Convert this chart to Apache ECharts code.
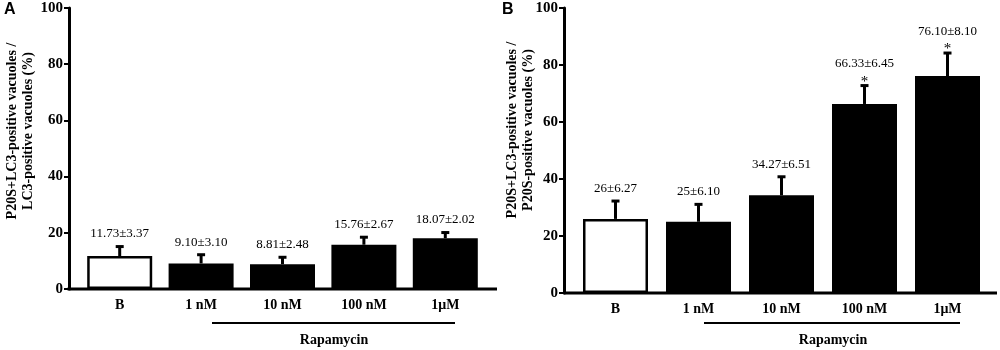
<!DOCTYPE html>
<html>
<head>
<meta charset="utf-8">
<script src="https://cdn.jsdelivr.net/npm/echarts@6/dist/echarts.min.js"></script>
<style>
  html, body { margin: 0; padding: 0; background: #ffffff; }
  #chart { width: 1000px; height: 350px; }
</style>
</head>
<body>
<div id="chart"></div>
<script>
const categories = ['B', '1 nM', '10 nM', '100 nM', '1μM'];
const yTicks = [0, 20, 40, 60, 80, 100];

// panel A
const meanA = [11.73, 9.10, 8.81, 15.76, 18.07];
const errA = [3.37, 3.10, 2.48, 2.67, 2.02];
const labelA = ['11.73±3.37', '9.10±3.10', '8.81±2.48', '15.76±2.67', '18.07±2.02'];
const starA = [false, false, false, false, false];

// panel B
const meanB = [26, 25, 34.27, 66.33, 76.10];
const errB = [6.27, 6.10, 6.51, 6.45, 8.10];
const labelB = ['26±6.27', '25±6.10', '34.27±6.51', '66.33±6.45', '76.10±8.10'];
const starB = [false, false, false, true, true];

const serif = "'Liberation Serif', 'Times New Roman', serif";

const barData = (means) => means.map((v, i) => (
  i === 0
    ? {value: v, itemStyle: {color: '#ffffff', borderColor: '#000', borderWidth: 2.5}}
    : {value: v, itemStyle: {color: '#000'}}
));

const errSeries = (idx, means, errs, labels, stars) => ({
  type: 'custom',
  xAxisIndex: idx,
  yAxisIndex: idx,
  z: 5,
  clip: false,
  data: means.map((m, i) => [i, m, errs[i]]),
  renderItem: (params, api) => {
    const i = api.value(0);
    const m = api.value(1);
    const e = api.value(2);
    const base = api.coord([i, m]);
    const top = api.coord([i, m + e]);
    const children = [
      {type: 'line', shape: {x1: base[0], y1: base[1], x2: top[0], y2: top[1]}, style: {stroke: '#000', lineWidth: 3}},
      {type: 'rect', shape: {x: top[0] - 4, y: top[1] - 1.5, width: 8, height: 3}, style: {fill: '#000'}}
    ];
    let labelY = top[1] - 6;
    if (stars[params.dataIndex]) {
      children.push({type: 'text', x: top[0], y: top[1] - 4, style: {text: '*', font: '15px ' + serif, fill: '#000', align: 'center', verticalAlign: 'middle'}});
      labelY = top[1] - 15;
    }
    children.push({type: 'text', x: top[0], y: labelY, style: {text: labels[params.dataIndex], font: '13px ' + serif, fill: '#000', align: 'center', verticalAlign: 'bottom'}});
    return {type: 'group', children};
  }
});

const xAxisCfg = (idx) => ({
  type: 'category',
  gridIndex: idx,
  data: categories,
  axisLine: {show: false},
  axisTick: {show: false},
  axisLabel: {color: '#000', fontFamily: serif, fontWeight: 'bold', fontSize: 14, margin: 9}
});

const yAxisCfg = (idx) => ({
  type: 'value',
  gridIndex: idx,
  min: yTicks[0],
  max: yTicks[yTicks.length - 1],
  interval: 20,
  offset: 10,
  splitLine: {show: false},
  axisLine: {show: true, lineStyle: {color: '#000', width: 3}},
  axisTick: {show: true, length: 5, lineStyle: {color: '#000', width: 2}},
  axisLabel: {color: '#000', fontFamily: serif, fontWeight: 'bold', fontSize: 15, margin: 6}
});

const chart = echarts.init(document.getElementById('chart'));
const option = {
  animation: false,
  grid: [
    {left: 79, right: 514, top: 8, bottom: 61},
    {left: 574, right: 11, top: 8, bottom: 57}
  ],
  xAxis: [xAxisCfg(0), xAxisCfg(1)],
  yAxis: [yAxisCfg(0), yAxisCfg(1)],
  series: [
    {type: 'bar', xAxisIndex: 0, yAxisIndex: 0, barWidth: 65, data: barData(meanA)},
    {type: 'bar', xAxisIndex: 1, yAxisIndex: 1, barWidth: 65, data: barData(meanB)},
    errSeries(0, meanA, errA, labelA, starA),
    errSeries(1, meanB, errB, labelB, starB)
  ],
  graphic: [
    // panel letters
    {type: 'text', left: 4, top: 2, style: {text: 'A', font: "bold 16px 'Liberation Sans', Arial, sans-serif", fill: '#000'}},
    {type: 'text', left: 502, top: 2, style: {text: 'B', font: "bold 16px 'Liberation Sans', Arial, sans-serif", fill: '#000'}},
    // y axis titles
    {type: 'text', x: 20, y: 131, rotation: Math.PI / 2,
      style: {text: 'P20S+LC3-positive vacuoles /\nLC3-positive vacuoles (%)', font: 'bold 14px ' + serif, lineHeight: 16, fill: '#000', align: 'center', verticalAlign: 'middle'}},
    {type: 'text', x: 520, y: 130, rotation: Math.PI / 2,
      style: {text: 'P20S+LC3-positive vacuoles /\nP20S-positive vacuoles (%)', font: 'bold 14px ' + serif, lineHeight: 16, fill: '#000', align: 'center', verticalAlign: 'middle'}},
    // x axis baselines (extend past the bars like the original)
    {type: 'line', shape: {x1: 67.5, y1: 289, x2: 497, y2: 289}, style: {stroke: '#000', lineWidth: 3}},
    {type: 'line', shape: {x1: 563.5, y1: 293, x2: 997, y2: 293}, style: {stroke: '#000', lineWidth: 3}},
    // rapamycin brackets
    {type: 'line', shape: {x1: 212, y1: 323, x2: 455, y2: 323}, style: {stroke: '#000', lineWidth: 2}},
    {type: 'line', shape: {x1: 704, y1: 323, x2: 960, y2: 323}, style: {stroke: '#000', lineWidth: 2}},
    {type: 'text', x: 334, y: 340, style: {text: 'Rapamycin', font: 'bold 14px ' + serif, fill: '#000', align: 'center', verticalAlign: 'middle'}},
    {type: 'text', x: 833, y: 340, style: {text: 'Rapamycin', font: 'bold 14px ' + serif, fill: '#000', align: 'center', verticalAlign: 'middle'}}
  ]
};

option && chart.setOption(option);
</script>
</body>
</html>
